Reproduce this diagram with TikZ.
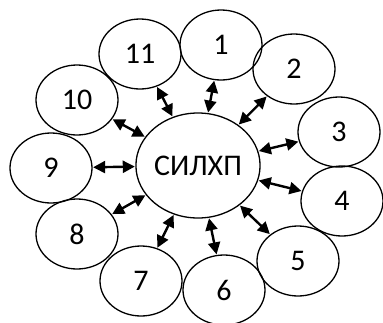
\documentclass[tikz,border=0pt]{standalone}
\usepackage{fontspec}
\setmainfont{Carlito}
\usetikzlibrary{shapes.geometric,arrows.meta}
\tikzset{
  sat/.style={draw, ellipse, line width=1.3pt, minimum width=82pt, minimum height=70pt, inner sep=0pt, font=\fontsize{30}{30}\selectfont},
  hub/.style={draw, ellipse, line width=1.3pt, minimum width=120pt, minimum height=105pt, inner sep=0pt, font=\fontsize{30}{30}\selectfont},
  link/.style={line width=2.4pt, {Triangle[length=12pt,width=12pt]}-{Triangle[length=12pt,width=12pt]}, shorten <=0.5pt, shorten >=0.5pt}
}
\begin{document}
\begin{tikzpicture}[x=1pt, y=-1pt]
  \useasboundingbox (0,0) rectangle (383,322);
  \node[hub] (c) at (198,165.5) {СИЛХП};
  \node[sat] (n1) at (221,45) {1};
  \node[sat] (n2) at (294,69) {2};
  \node[sat] (n3) at (339,132) {3};
  \node[sat] (n4) at (342,201) {4};
  \node[sat] (n5) at (298,261) {5};
  \node[sat] (n6) at (224,290) {6};
  \node[sat] (n7) at (141,281) {7};
  \node[sat] (n8) at (77,234) {8};
  \node[sat] (n9) at (51,168) {9};
  \node[sat] (n10) at (77,100) {10};
  \node[sat] (n11) at (140,54) {11};
  \foreach \n in {1,...,11} {
    \draw[link] (c) -- (n\n);
  }
\end{tikzpicture}
\end{document}
